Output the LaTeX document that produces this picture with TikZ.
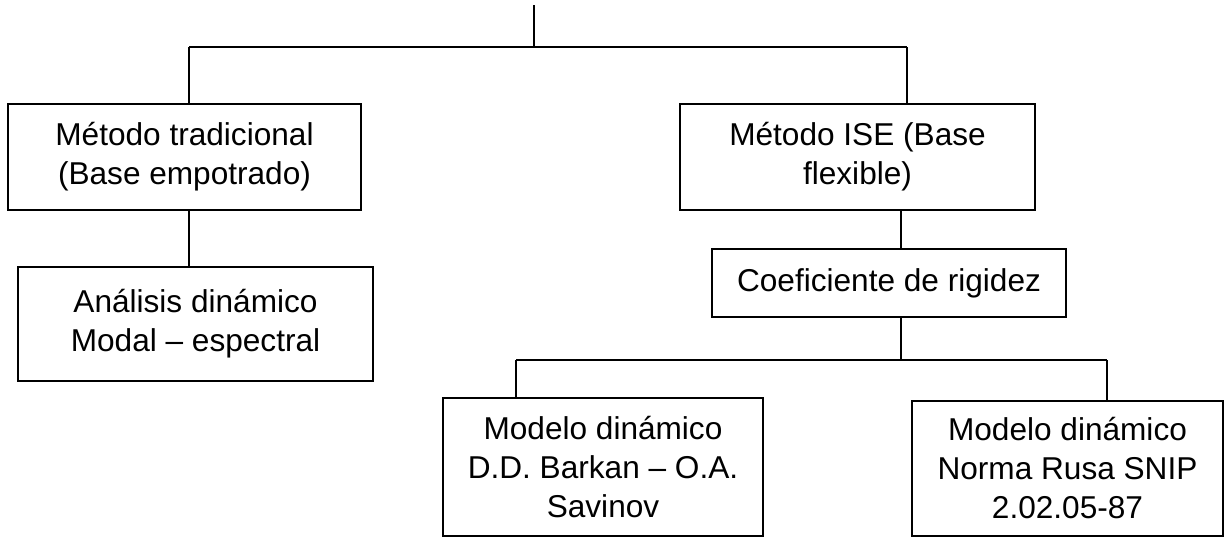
\documentclass[tikz,border=0pt]{standalone}
\usepackage{fontspec}
\setmainfont{Liberation Sans}
\begin{document}
\begin{tikzpicture}[x=0.75pt, y=-0.75pt,
  box/.style={draw=black, line width=2.2pt, align=center, inner sep=0pt,
    font=\fontsize{23.7pt}{29.25pt}\selectfont},
  link/.style={draw=black, line width=1.5pt}]
\useasboundingbox (0,0) rectangle (1230,537);

% boxes (sizes in px converted through the unit vectors)
\node[box, minimum width=264.75pt, minimum height=79.5pt] (trad) at (184.5,157)
  {Método tradicional\\(Base empotrado)};
\node[box, minimum width=266.25pt, minimum height=79.5pt] (ise) at (857.5,157)
  {Método ISE (Base\\flexible)};
\node[box, minimum width=266.25pt, minimum height=85.5pt] (modal) at (195.5,324)
  {Análisis dinámico\\Modal – espectral};
\node[box, minimum width=265.5pt, minimum height=51pt] (coef) at (889,283)
  {Coeficiente de rigidez};
\node[box, minimum width=240pt, minimum height=103.5pt] (barkan) at (603,467)
  {Modelo dinámico\\D.D. Barkan – O.A.\\Savinov};
\node[box, minimum width=233.25pt, minimum height=101.25pt] (snip) at (1067.5,468.5)
  {Modelo dinámico\\Norma Rusa SNIP\\2.02.05-87};

% junction points of the tree
\coordinate (top) at (534,5);
\coordinate (topj) at (534,47);
\coordinate (j1) at (189,47);
\coordinate (j2) at (907,47);
\coordinate (jc) at (901,230);
\coordinate (bus) at (901,360);
\coordinate (b1) at (516,360);
\coordinate (b2) at (1107,360);

% connectors
\draw[link] (top) -- (topj);
\draw[link] (j1) -- (j2);
\draw[link] (j1) -- (j1 |- trad.north);
\draw[link] (j2) -- (j2 |- ise.north);
\draw[link] (j1 |- trad.south) -- (j1 |- modal.north);
\draw[link] (jc |- ise.south) -- (jc |- coef.north);
\draw[link] (jc |- coef.south) -- (bus);
\draw[link] (b1) -- (b2);
\draw[link] (b1) -- (b1 |- barkan.north);
\draw[link] (b2) -- (b2 |- snip.north);
\end{tikzpicture}
\end{document}
